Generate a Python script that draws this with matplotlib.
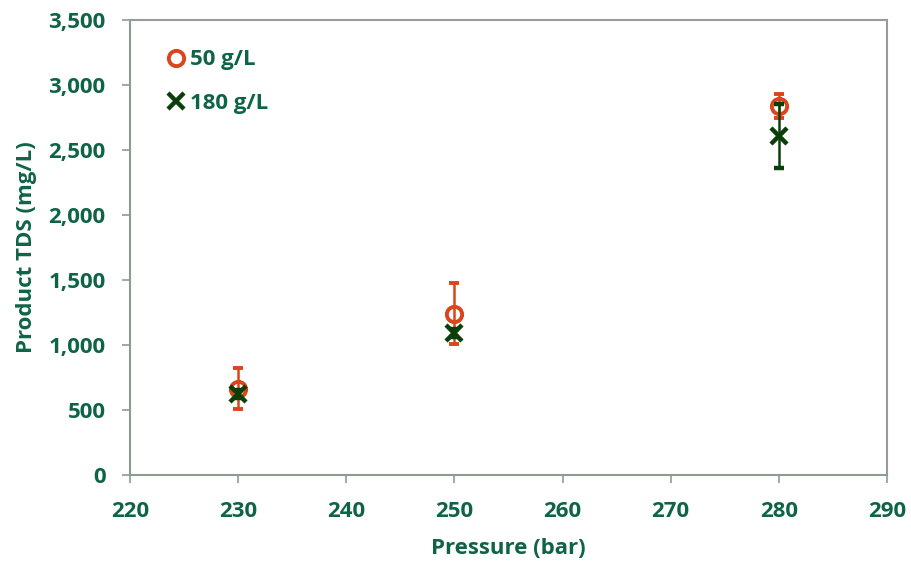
import matplotlib.pyplot as plt
from matplotlib.lines import Line2D
from matplotlib.ticker import FuncFormatter

# pressure (bar) and product TDS (mg/L) for two feed concentrations
pressure = [230, 250, 280]
tds_50 = [665, 1240, 2840]
err_50 = [160, 235, 90]
tds_180 = [625, 1090, 2610]
err_180 = [30, 30, 245]

TEXT = '#0F6447'
ORANGE = '#D9461B'
GREEN = '#0A3F0A'

plt.rcParams['font.family'] = ['Open Sans', 'DejaVu Sans']
plt.rcParams['font.weight'] = 'bold'

fig = plt.figure(figsize=(9.11, 5.61), dpi=100)
ax = fig.add_axes([130 / 911, 1 - 475 / 561, 757 / 911, 455 / 561])

ax.errorbar(pressure, tds_50, yerr=err_50, fmt='o', ms=11, mfc='none', mec=ORANGE,
            mew=2.8, ecolor=ORANGE, elinewidth=1.8, capsize=3.8, capthick=1.8, zorder=3)
ax.errorbar(pressure, tds_180, yerr=err_180, fmt='x', ms=11, mec=GREEN, mew=3.2,
            ecolor=GREEN, elinewidth=1.8, capsize=3.8, capthick=1.8, zorder=4)

ax.set_xlim(220, 290)
ax.set_ylim(0, 3500)
ax.set_xticks(range(220, 291, 10))
ax.set_yticks(range(0, 3501, 500))
ax.yaxis.set_major_formatter(FuncFormatter(lambda v, p: f'{int(v):,}'))

for side in ['left', 'bottom']:
    ax.spines[side].set_color('#8A9E8F')
    ax.spines[side].set_linewidth(1.5)
for side in ['top', 'right']:
    ax.spines[side].set_color('#9A9A9A')
    ax.spines[side].set_linewidth(1.5)

ax.tick_params(axis='both', direction='out', length=5.5, width=1.2, color='#8A9E8F',
               labelsize=16, labelcolor=TEXT)
ax.tick_params(axis='y', pad=12)
ax.tick_params(axis='x', pad=13)
for lab in ax.get_xticklabels() + ax.get_yticklabels():
    lab.set_fontweight('bold')

ax.set_xlabel('Pressure (bar)', fontsize=16, color=TEXT, fontweight='bold', labelpad=12)
ax.set_ylabel('Product TDS (mg/L)', fontsize=16, color=TEXT, fontweight='bold', labelpad=8)

handles = [
    Line2D([], [], ls='none', marker='o', ms=11, mfc='none', mec=ORANGE, mew=2.8),
    Line2D([], [], ls='none', marker='x', ms=11, mec=GREEN, mew=3.2),
]
leg = ax.legend(handles, ['50 g/L', '180 g/L'], loc='upper left', frameon=False,
                fontsize=16, handlelength=0.8, handletextpad=0.25, labelspacing=1.0,
                borderaxespad=0, bbox_to_anchor=(0.037, 0.955))
for t in leg.get_texts():
    t.set_color(TEXT)
    t.set_fontweight('bold')

fig.savefig('out.png', dpi=100)
